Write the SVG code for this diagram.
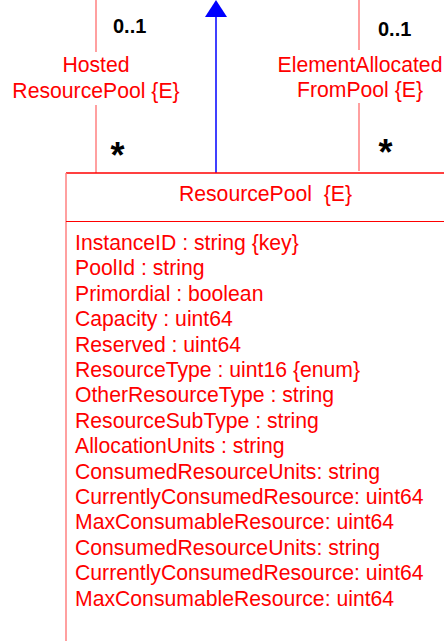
<svg xmlns="http://www.w3.org/2000/svg" width="444" height="641" viewBox="0 0 444 641">
<style>
.t{font-family:"Liberation Sans",Arial,sans-serif;font-size:21.2px;fill:#FF0000}
.c{text-anchor:middle}
.m{font-family:"Liberation Sans",Arial,sans-serif;font-weight:bold;fill:#000}
.assoc{stroke:#FF8080;stroke-width:1.5;fill:none}
</style>
<rect width="444" height="641" fill="#fff"/>
<g id="connectors">
<line class="assoc" x1="96" y1="0" x2="96" y2="52"/>
<line class="assoc" x1="96" y1="105" x2="96" y2="173"/>
<line class="assoc" x1="359" y1="0" x2="359" y2="50"/>
<line class="assoc" x1="359" y1="103" x2="359" y2="171"/>
<line x1="216" y1="16" x2="216" y2="173" stroke="#0000FF" stroke-width="1.5"/>
<polygon points="216,0 227,17 205,17" fill="#0000FF"/>
<text class="m" x="113" y="33" font-size="20">0..1</text>
<text class="m" x="378" y="36" font-size="20">0..1</text>
<text class="t c" x="96" y="72">Hosted</text>
<text class="t c" x="96" y="98">ResourcePool {E}</text>
<text class="t c" x="360" y="72">ElementAllocated</text>
<text class="t c" x="360" y="97">FromPool {E}</text>
<text class="m" x="110.5" y="168" font-size="36">*</text>
<text class="m" x="378.5" y="165" font-size="36">*</text>
</g>
<g id="ResourcePool">
<line x1="66" y1="173" x2="444" y2="173" stroke="#FF0000" stroke-width="1.5"/>
<line x1="66" y1="173" x2="66" y2="641" stroke="#FF8080" stroke-width="1.5"/>
<line x1="66" y1="221.5" x2="444" y2="221.5" stroke="#FF0000" stroke-width="1.2"/>
<text class="t c" x="265.5" y="200.5" xml:space="preserve">ResourcePool  {E}</text>
<text class="t" x="75" y="250">InstanceID : string {key}</text>
<text class="t" x="75" y="275.4">PoolId : string</text>
<text class="t" x="75" y="300.8">Primordial : boolean</text>
<text class="t" x="75" y="326.2">Capacity : uint64</text>
<text class="t" x="75" y="351.6">Reserved : uint64</text>
<text class="t" x="75" y="377">ResourceType : uint16 {enum}</text>
<text class="t" x="75" y="402.4">OtherResourceType : string</text>
<text class="t" x="75" y="427.8">ResourceSubType : string</text>
<text class="t" x="75" y="453.2">AllocationUnits : string</text>
<text class="t" x="75" y="478.6">ConsumedResourceUnits: string</text>
<text class="t" x="75" y="504">CurrentlyConsumedResource: uint64</text>
<text class="t" x="75" y="529.4">MaxConsumableResource: uint64</text>
<text class="t" x="75" y="554.8">ConsumedResourceUnits: string</text>
<text class="t" x="75" y="580.2">CurrentlyConsumedResource: uint64</text>
<text class="t" x="75" y="605.6">MaxConsumableResource: uint64</text>
</g>
</svg>
